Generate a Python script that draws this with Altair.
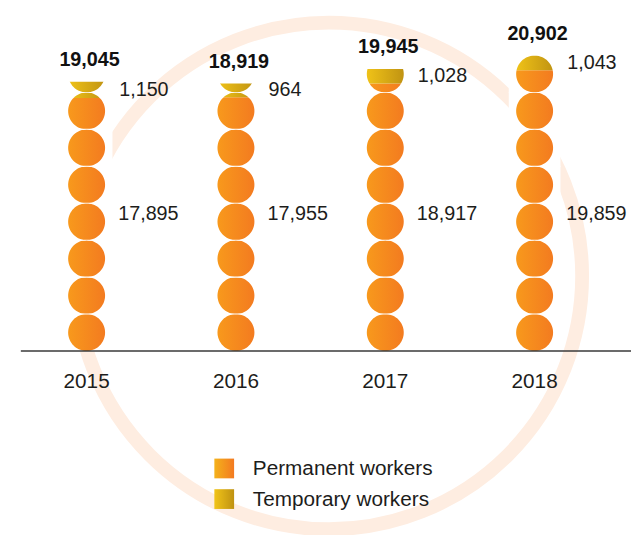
import math
import altair as alt
import pandas as pd

# ---- data ----
years = ["2015", "2016", "2017", "2018"]
permanent = [17895, 17955, 18917, 19859]
temporary = [1150, 964, 1028, 1043]
totals = [19045, 18919, 19945, 20902]
legend_labels = ["Permanent workers", "Temporary workers"]

# ---- layout constants ----
W, H = 605, 340
Y_MAX = 23750
UNIT = max(totals) / 8          # value represented by one circle
SLOT_PX = UNIT * H / Y_MAX      # pixel height of one circle slot
FONT = "Liberation Sans"
TXT = "#1d1d1b"

df = pd.DataFrame({
    "year": years,
    "perm": permanent,
    "temp": temporary,
    "total": totals,
})
df["mid"] = (df["perm"] + df["total"]) / 2

# circle slots (mask positions) for each column
mask_rows = []
for yr, tot in zip(years, totals):
    n = int(math.ceil(tot / UNIT - 1e-9))
    for k in range(n):
        mask_rows.append({"year": yr, "yc": (k + 0.5) * UNIT})
df_mask = pd.DataFrame(mask_rows)

# mask symbol: a rectangle with a round hole (hole drawn with opposite winding)
N_SEG = 72
hole = "L".join(
    f"{math.cos(-2 * math.pi * i / N_SEG):.4f},{math.sin(-2 * math.pi * i / N_SEG):.4f}"
    for i in range(N_SEG)
)
MASK_PATH = "M-1.4,-1.03L1.4,-1.03L1.4,1.03L-1.4,1.03ZM" + hole + "Z"


def lin_grad(c0, c1):
    return alt.Gradient(
        gradient="linear",
        stops=[alt.GradientStop(color=c0, offset=0),
               alt.GradientStop(color=c1, offset=1)],
        x1=0, x2=1, y1=0, y2=0)


grad_orange = lin_grad("#F89A1C", "#F37A20")
grad_yellow = lin_grad("#F1C418", "#BF9212")
grad_leg_perm = lin_grad("#F4B21B", "#F37A21")

x_enc = alt.X("year:N", sort=years,
              scale=alt.Scale(paddingInner=0, paddingOuter=0),
              axis=alt.Axis(title=None, domain=False, ticks=False, tickSize=0,
                            grid=False, labelAngle=0, labelFontSize=21,
                            labelFont=FONT, labelColor=TXT, labelPadding=20,
                            zindex=2))
y_scale = alt.Scale(domain=[0, Y_MAX], nice=False, zero=True)

one = pd.DataFrame({"a": [0]})

# background ring
ring = alt.Chart(one).mark_point(
    shape="circle", size=513 ** 2, filled=False, stroke="#FEEDE1",
    strokeWidth=14, opacity=1
).encode(x=alt.value(321), y=alt.value(264))

base = alt.Chart(df)

bars_perm = base.mark_bar(size=40, color=grad_orange).encode(
    x=x_enc,
    y=alt.Y("perm:Q", scale=y_scale, axis=None),
)
bars_temp = base.mark_bar(size=40, color=grad_yellow).encode(
    x=x_enc,
    y=alt.Y("perm:Q", scale=y_scale, axis=None),
    y2="total:Q",
)

mask = alt.Chart(df_mask).mark_point(
    shape=MASK_PATH, size=SLOT_PX ** 2, filled=True, color="white",
    strokeWidth=0, opacity=1
).encode(
    x=x_enc,
    y=alt.Y("yc:Q", scale=y_scale, axis=None),
)

baseline = alt.Chart(one).mark_rule(
    color="#3a3a3a", strokeWidth=1.5
).encode(y=alt.YDatum(0, scale=y_scale, axis=None),
         x=alt.value(9), x2=alt.value(640))

total_lbl = base.mark_text(
    font=FONT, fontSize=20, fontWeight="bold", color="#111111",
    baseline="middle", align="center", dx=3, dy=-22
).encode(x=x_enc, y=alt.Y("total:Q", scale=y_scale, axis=None),
         text=alt.Text("total:Q", format=","))

temp_lbl = base.mark_text(
    font=FONT, fontSize=20, color=TXT, baseline="middle", align="left", dx=33
).encode(x=x_enc, y=alt.Y("mid:Q", scale=y_scale, axis=None),
         text=alt.Text("temp:Q", format=","))

perm_lbl = base.mark_text(
    font=FONT, fontSize=20, color=TXT, baseline="middle", align="left", dx=32
).encode(x=x_enc, y=alt.YDatum(9700, scale=y_scale, axis=None),
         text=alt.Text("perm:Q", format=","))

# custom legend
leg_sq1 = alt.Chart(one).mark_rect(color=grad_leg_perm).encode(
    x=alt.value(205), x2=alt.value(225), y=alt.value(449), y2=alt.value(469))
leg_sq2 = alt.Chart(one).mark_rect(color=grad_yellow).encode(
    x=alt.value(205), x2=alt.value(225), y=alt.value(480), y2=alt.value(500))
leg_t1 = alt.Chart(pd.DataFrame({"label": [legend_labels[0]]})).mark_text(
    font=FONT, fontSize=21, color=TXT, align="left", baseline="middle"
).encode(x=alt.value(244), y=alt.value(460), text="label:N")
leg_t2 = alt.Chart(pd.DataFrame({"label": [legend_labels[1]]})).mark_text(
    font=FONT, fontSize=21, color=TXT, align="left", baseline="middle"
).encode(x=alt.value(244), y=alt.value(491), text="label:N")

chart = alt.layer(
    ring, bars_perm, bars_temp, mask, baseline,
    total_lbl, temp_lbl, perm_lbl,
    leg_sq1, leg_sq2, leg_t1, leg_t2,
).properties(
    width=W, height=H,
    padding={"left": 4, "top": 4, "right": 22, "bottom": 183},
    autosize=alt.AutoSizeParams(type="none"),
    background="white",
).configure_view(strokeWidth=0)

chart.save("out.html", embed_options={"renderer": "svg", "actions": False})
